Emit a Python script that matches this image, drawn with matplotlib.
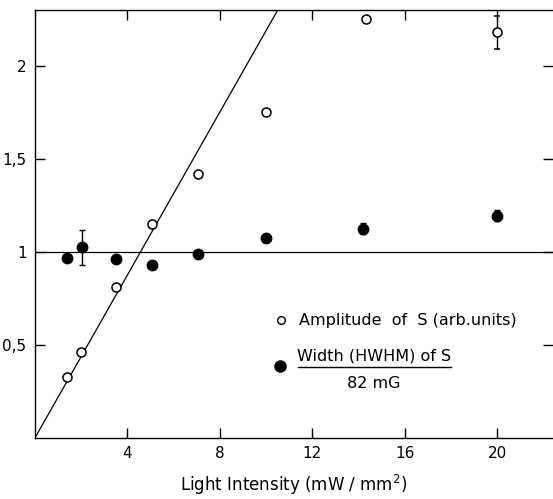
import numpy as np
import matplotlib.pyplot as plt

# amplitude of S (open circles)
amp_x = [1.4, 2.0, 3.5, 5.05, 7.05, 10.0, 14.3, 20.0]
amp_y = [0.33, 0.46, 0.81, 1.15, 1.42, 1.75, 2.25, 2.18]
amp_err = [0, 0, 0, 0, 0, 0, 0, 0.09]

# width (HWHM) of S / 82 mG (filled circles)
wid_x = [1.4, 2.05, 3.5, 5.05, 7.05, 10.0, 14.2, 20.0]
wid_y = [0.97, 1.025, 0.96, 0.93, 0.99, 1.075, 1.125, 1.195]
wid_err = [0, 0.095, 0, 0, 0, 0, 0.03, 0.03]

fit_slope = 0.219

xticks = [4, 8, 12, 16, 20]
yticks = [0.5, 1, 1.5, 2]
ytick_labels = ['0,5', '1', '1,5', '2']

plt.rcParams['font.family'] = 'DejaVu Sans'

fig = plt.figure(figsize=(5.53, 4.99), dpi=100)
ax = fig.add_axes([0.063, 0.122, 0.937, 0.858])

xs = np.array([0, 12])
ax.plot(xs, fit_slope*xs, c='k', lw=0.9)
ax.axhline(1, c='k', lw=0.9)

ax.errorbar(amp_x, amp_y, yerr=amp_err, fmt='o', mfc='white', mec='k', mew=1.1,
            ms=6.5, ecolor='k', elinewidth=1, capsize=2.5, capthick=1)
ax.errorbar(wid_x, wid_y, yerr=wid_err, fmt='o', mfc='k', mec='k',
            ms=7.5, ecolor='k', elinewidth=1, capsize=2.5, capthick=1)

ax.set_xlim(0, 22.4)
ax.set_ylim(0, 2.3)
ax.set_xticks(xticks)
ax.set_xticklabels([str(t) for t in xticks], fontsize=11)
ax.set_yticks(yticks)
ax.set_yticklabels(ytick_labels, fontsize=11)
ax.tick_params(direction='in', length=7, width=1, top=True, right=True, pad=6)
ax.spines['right'].set_visible(False)
for s in ['left', 'bottom', 'top']:
	ax.spines[s].set_linewidth(1)

ax.set_xlabel('Light Intensity (mW / mm$^{\\mathregular{2}}$)', fontsize=12, labelpad=8)

# legend drawn by hand
ax.plot([10.65], [0.633], 'o', mfc='white', mec='k', mew=1, ms=5.5)
ax.text(11.4, 0.633, 'Amplitude  of  S (arb.units)', fontsize=11.5, va='center')
ax.plot([10.6], [0.385], 'o', mfc='k', mec='k', ms=8)
ax.text(14.67, 0.44, 'Width (HWHM) of S', fontsize=11.5, va='center', ha='center')
ax.plot([11.36, 17.98], [0.38, 0.38], c='k', lw=1)
ax.text(14.67, 0.293, '82 mG', fontsize=11.5, va='center', ha='center')

fig.savefig('out.png', dpi=100)
